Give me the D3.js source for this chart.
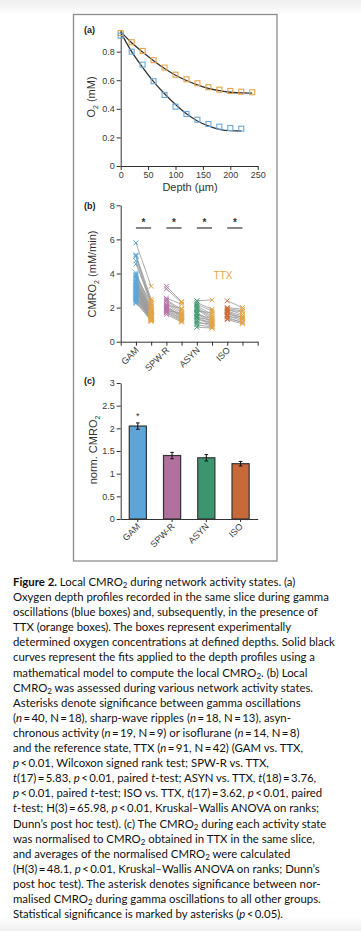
<!DOCTYPE html>
<html><head><meta charset="utf-8">
<script src="https://cdn.jsdelivr.net/npm/d3@7"></script>
<style>
html,body{margin:0;padding:0;width:361px;height:931px;overflow:hidden;background:#fff;}
#wrap{position:relative;width:361px;height:931px;}
svg{position:absolute;left:0;top:0;}
#cap{position:absolute;left:13px;top:574px;font-family:Lato,"Noto Sans",sans-serif;color:#111;white-space:nowrap;line-height:15.1px;}
#cap sub{font-size:0.7em;vertical-align:-0.25em;line-height:0;}
</style></head>
<body><div id="wrap"><svg id="chart" width="361" height="931"></svg><div id="cap"></div></div>
<script>
// ---------- DATA ----------
// Panel (a): oxygen depth profiles
const depthGam = [0,20,40,60,80,100,120,140,160,180,200,220];
const o2Gam    = [0.912,0.80,0.709,0.593,0.497,0.415,0.364,0.324,0.294,0.275,0.266,0.261];
const depthTtx = [0,20,40,60,80,100,120,140,160,180,200,220,240];
const o2Ttx    = [0.93,0.866,0.805,0.74,0.688,0.639,0.607,0.579,0.551,0.534,0.525,0.52,0.516];
const fitDepthGam = [0,20,40,60,80,100,120,140,160,180,200,220];
const fitGam      = [0.935,0.80,0.69,0.59,0.505,0.43,0.365,0.315,0.28,0.257,0.247,0.245];
const fitDepthTtx = [0,20,40,60,80,100,120,140,160,180,200,220,240];
const fitTtx      = [0.94,0.862,0.797,0.737,0.682,0.635,0.598,0.567,0.543,0.527,0.516,0.511,0.51];
const xTicksA = [0,50,100,150,200,250];
const yTicksA = [0,0.2,0.4,0.6,0.8];

// Panel (b): paired CMRO2 (activity state vs TTX)
const groups = ["GAM","SPW-R","ASYN","ISO"];
const gamAct = [5.8,5.1,5.05,5.0,4.75,4.55,4.05,3.95,3.9,3.85,3.75,3.7,3.6,3.55,3.5,3.45,3.4,3.35,3.3,3.25,3.2,3.15,3.1,3.05,3.0,2.95,2.9,2.85,2.8,2.75,2.7,2.65,2.6,2.55,2.5,2.45,2.4,2.35,2.3,2.25];
const gamTtx = [3.25,2.5,2.3,2.2,2.1,2.4,2.0,1.9,1.8,2.25,1.7,1.6,1.9,1.5,1.4,1.8,1.7,1.45,1.35,2.0,1.3,1.6,1.5,1.25,1.55,1.7,1.3,1.45,1.2,1.9,1.35,1.6,1.25,1.5,1.4,1.3,1.8,1.2,1.55,1.35];
const spwAct = [3.25,3.1,2.55,2.45,2.4,2.3,2.2,2.15,2.1,2.05,2.0,1.95,1.9,1.85,1.8,1.75,1.7,1.6];
const spwTtx = [2.35,2.3,2.2,1.9,1.8,1.7,1.6,1.95,1.5,1.45,1.55,1.4,1.3,1.65,1.35,1.25,1.2,1.15];
const asynAct = [2.4,2.3,2.2,2.1,2.0,1.95,1.9,1.8,1.7,1.65,1.6,1.5,1.45,1.4,1.3,1.2,1.1,1.0,0.85];
const asynTtx = [2.45,1.9,1.8,1.6,1.5,1.4,1.3,1.7,1.2,1.1,1.35,1.0,1.25,0.95,1.15,0.9,1.05,0.85,0.8];
const isoAct = [2.4,2.0,1.95,1.9,1.85,1.8,1.75,1.7,1.6,1.55,1.5,1.45,1.35,1.3];
const isoTtx = [2.0,1.9,1.8,1.6,1.75,1.5,1.4,1.3,1.45,1.2,1.35,1.1,1.15,1.05];
const yTicksB = [0,2,4,6,8];
const sigLevelB = 6.67;

// Panel (c): normalised CMRO2
const normMean = [2.05,1.40,1.35,1.22];
const normErr  = [0.07,0.07,0.07,0.05];
const yTicksC = [0,0.5,1,1.5,2,2.5,3];

// Colours
const groupColors = ["#5ba6da","#bb72ab","#3c9c70","#cc6d35"];
const barColors   = ["#5da5d8","#b1719f","#3b9670","#c8693a"];
const ttxColor = "#e3a446";
const gamBoxColor = "#6aa8da";

// ---------- DRAW ----------
const svg = d3.select("#chart");
const defs = svg.append("defs");
const gt = defs.append("linearGradient").attr("id","gtop").attr("x1",0).attr("x2",0).attr("y1",0).attr("y2",1);
gt.append("stop").attr("offset","0").attr("stop-color","#efefef");
gt.append("stop").attr("offset","1").attr("stop-color","#ffffff");
svg.append("rect").attr("x",0).attr("y",0).attr("width",361).attr("height",16).attr("fill","url(#gtop)");
const gb = defs.append("linearGradient").attr("id","gbot").attr("x1",0).attr("x2",0).attr("y1",0).attr("y2",1);
gb.append("stop").attr("offset","0").attr("stop-color","#ffffff");
gb.append("stop").attr("offset","1").attr("stop-color","#efefef");
svg.append("rect").attr("x",0).attr("y",917).attr("width",361).attr("height",14).attr("fill","url(#gbot)");

// figure box
svg.append("rect").attr("x",73.5).attr("y",14.5).attr("width",203.5).attr("height",546.5)
  .attr("fill","#fff").attr("stroke","#8c8c8c").attr("stroke-width",1.3);

const FONT = "Liberation Sans, Arial, sans-serif";
function styleAxis(g){
  g.select(".domain").attr("stroke","#333").attr("stroke-width",1);
  g.selectAll(".tick line").attr("stroke","#333").attr("stroke-width",1);
  g.selectAll(".tick text").attr("fill","#3a3a3a").attr("font-size","9px").attr("font-family",FONT);
}
function panelLabel(t,x,y){
  svg.append("text").attr("x",x).attr("y",y).text(t).attr("font-family",FONT)
    .attr("font-size","9px").attr("font-weight","bold").attr("fill","#222");
}
function yLabel(x,y,parts){
  const t = svg.append("text").attr("transform",`translate(${x},${y}) rotate(-90)`)
    .attr("text-anchor","middle").attr("font-family",FONT).attr("font-size","11px").attr("fill","#333");
  parts.forEach(p=>{
    const s=t.append("tspan").text(p.t);
    if(p.sub){s.attr("font-size","7px").attr("dy","2.5");}
    else if(p.after){s.attr("dy","-2.5");}
  });
}
const fmtA = d => d===0 ? "0" : d3.format(".1f")(d);

// ===== Panel (a) =====
const xA = d3.scaleLinear().domain([0,250]).range([120.7,257.7]);
const yA = d3.scaleLinear().domain([0,0.95]).range([166,30.2]);
svg.append("g").attr("transform","translate(0,166)")
  .call(d3.axisBottom(xA).tickValues(xTicksA).tickSize(4).tickSizeOuter(0).tickPadding(2)).call(styleAxis);
svg.append("g").attr("transform","translate(120.7,0)")
  .call(d3.axisLeft(yA).tickValues(yTicksA).tickFormat(fmtA).tickSize(4).tickSizeOuter(0).tickPadding(2)).call(styleAxis);
panelLabel("(a)",84,33);
svg.append("text").attr("x",190).attr("y",190.5).attr("text-anchor","middle")
  .attr("font-family",FONT).attr("font-size","11px").attr("fill","#333").text("Depth (µm)");
yLabel(95,97,[{t:"O"},{t:"2",sub:true},{t:" (mM)",after:true}]);

const lineA = d3.line().x(d=>xA(d[0])).y(d=>yA(d[1])).curve(d3.curveMonotoneX);
svg.append("path").datum(fitDepthTtx.map((d,i)=>[d,fitTtx[i]])).attr("d",lineA)
  .attr("fill","none").attr("stroke","#333").attr("stroke-width",1.3);
svg.append("path").datum(fitDepthGam.map((d,i)=>[d,fitGam[i]])).attr("d",lineA)
  .attr("fill","none").attr("stroke","#333").attr("stroke-width",1.3);
const bs = 5;
svg.append("g").selectAll("rect").data(depthTtx.map((d,i)=>[d,o2Ttx[i]])).join("rect")
  .attr("x",d=>xA(d[0])-bs/2).attr("y",d=>yA(d[1])-bs/2).attr("width",bs).attr("height",bs)
  .attr("fill","none").attr("stroke",ttxColor).attr("stroke-width",1.1);
svg.append("g").selectAll("rect").data(depthGam.map((d,i)=>[d,o2Gam[i]])).join("rect")
  .attr("x",d=>xA(d[0])-bs/2).attr("y",d=>yA(d[1])-bs/2).attr("width",bs).attr("height",bs)
  .attr("fill","none").attr("stroke",gamBoxColor).attr("stroke-width",1.1);

// ===== Panel (b) =====
const xB = d3.scaleLinear().domain([0,9]).range([120.7,257.7]);
const yB = d3.scaleLinear().domain([0,8]).range([341.7,205.3]);
const labelsB = {1:"GAM",3:"SPW-R",5:"ASYN",7:"ISO"};
const gxB = svg.append("g").attr("transform","translate(0,341.7)")
  .call(d3.axisBottom(xB).tickValues(d3.range(0,10)).tickFormat(d=>labelsB[d]||"").tickSize(4).tickSizeOuter(0)).call(styleAxis);
gxB.selectAll(".tick text").attr("text-anchor","end").attr("dy",null).attr("y",0)
  .attr("transform","translate(3,9) rotate(-45)");
svg.append("g").attr("transform","translate(120.7,0)")
  .call(d3.axisLeft(yB).tickValues(yTicksB).tickSize(4).tickSizeOuter(0).tickPadding(2)).call(styleAxis);
panelLabel("(b)",84,209);
yLabel(96,274,[{t:"CMRO"},{t:"2",sub:true},{t:" (mM/min)",after:true}]);

const pairs = [[gamAct,gamTtx],[spwAct,spwTtx],[asynAct,asynTtx],[isoAct,isoTtx]];
const crossPath = "M-2.4,-2.4L2.4,2.4M-2.4,2.4L2.4,-2.4";
pairs.forEach((p,gi)=>{
  const xa = xB(1+2*gi), xt = xB(2+2*gi);
  const g = svg.append("g");
  g.selectAll("line").data(p[0].map((v,i)=>[v,p[1][i]])).join("line")
    .attr("x1",xa).attr("x2",xt).attr("y1",d=>yB(d[0])).attr("y2",d=>yB(d[1]))
    .attr("stroke","#9a9a9a").attr("stroke-width",0.8);
  g.selectAll("path.a").data(p[0]).join("path").attr("class","a")
    .attr("d",crossPath).attr("transform",v=>`translate(${xa},${yB(v)})`)
    .attr("stroke",groupColors[gi]).attr("stroke-width",1).attr("fill","none");
  g.selectAll("path.t").data(p[1]).join("path").attr("class","t")
    .attr("d",crossPath).attr("transform",v=>`translate(${xt},${yB(v)})`)
    .attr("stroke",ttxColor).attr("stroke-width",1).attr("fill","none");
  // significance
  svg.append("line").attr("x1",xa).attr("x2",xt).attr("y1",yB(sigLevelB)).attr("y2",yB(sigLevelB))
    .attr("stroke","#444").attr("stroke-width",1.3);
  svg.append("text").attr("x",(xa+xt)/2).attr("y",yB(sigLevelB)-1.5).attr("text-anchor","middle")
    .attr("font-family",FONT).attr("font-size","10px").attr("font-weight","bold").attr("fill","#333").text("*");
});
svg.append("text").attr("x",223).attr("y",279).attr("text-anchor","middle")
  .attr("font-family",FONT).attr("font-size","10px").attr("fill",ttxColor).text("TTX");

// ===== Panel (c) =====
const xC = d3.scaleBand().domain(groups).range([120.7,257.7]).paddingInner(0.5).paddingOuter(0.25);
const yC = d3.scaleLinear().domain([0,3]).range([519,383]);
svg.append("g").selectAll("rect").data(groups).join("rect")
  .attr("x",d=>xC(d)).attr("y",(d,i)=>yC(normMean[i])).attr("width",xC.bandwidth())
  .attr("height",(d,i)=>yC(0)-yC(normMean[i])).attr("fill",(d,i)=>barColors[i])
  .attr("stroke","#333").attr("stroke-width",1.2);
const eb = svg.append("g");
groups.forEach((g,i)=>{
  const cx = xC(g)+xC.bandwidth()/2;
  const y1 = yC(normMean[i]-normErr[i]), y2 = yC(normMean[i]+normErr[i]);
  eb.append("line").attr("x1",cx).attr("x2",cx).attr("y1",y1).attr("y2",y2).attr("stroke","#111").attr("stroke-width",1);
  eb.append("line").attr("x1",cx-1.8).attr("x2",cx+1.8).attr("y1",y1).attr("y2",y1).attr("stroke","#111").attr("stroke-width",1);
  eb.append("line").attr("x1",cx-1.8).attr("x2",cx+1.8).attr("y1",y2).attr("y2",y2).attr("stroke","#111").attr("stroke-width",1);
});
const gxC = svg.append("g").attr("transform","translate(0,519)")
  .call(d3.axisBottom(xC).tickSize(3).tickSizeOuter(0)).call(styleAxis);
gxC.selectAll(".tick text").attr("text-anchor","end").attr("dy",null).attr("y",0)
  .attr("transform","translate(3,8) rotate(-45)");
svg.append("g").attr("transform","translate(120.7,0)")
  .call(d3.axisLeft(yC).tickValues(yTicksC).tickFormat(d=>String(d)).tickSize(4).tickSizeOuter(0).tickPadding(2)).call(styleAxis);
panelLabel("(c)",84,384);
yLabel(97,450,[{t:"norm. CMRO"},{t:"2",sub:true}]);
svg.append("text").attr("x",xC("GAM")+xC.bandwidth()/2).attr("y",yC(2.3)+4).attr("text-anchor","middle")
  .attr("font-family",FONT).attr("font-size","9px").attr("fill","#333").text("*");

// ===== Caption =====
const capLines = [
  "<b>Figure 2.</b> Local CMRO<sub>2</sub> during network activity states. (a)",
  "Oxygen depth profiles recorded in the same slice during gamma",
  "oscillations (blue boxes) and, subsequently, in the presence of",
  "TTX (orange boxes). The boxes represent experimentally",
  "determined oxygen concentrations at defined depths. Solid black",
  "curves represent the fits applied to the depth profiles using a",
  "mathematical model to compute the local CMRO<sub>2</sub>. (b) Local",
  "CMRO<sub>2</sub> was assessed during various network activity states.",
  "Asterisks denote significance between gamma oscillations",
  "(<i>n</i>\u2009=\u200940, N\u2009=\u200918), sharp-wave ripples (<i>n</i>\u2009=\u200918, N\u2009=\u200913), asyn-",
  "chronous activity (<i>n</i>\u2009=\u200919, N\u2009=\u20099) or isoflurane (<i>n</i>\u2009=\u200914, N\u2009=\u20098)",
  "and the reference state, TTX (<i>n</i>\u2009=\u200991, N\u2009=\u200942) (GAM vs. TTX,",
  "<i>p</i>\u2009&lt;\u20090.01, Wilcoxon signed rank test; SPW-R vs. TTX,",
  "<i>t</i>(17)\u2009=\u20095.83, <i>p</i>\u2009&lt;\u20090.01, paired <i>t</i>-test; ASYN vs. TTX, <i>t</i>(18)\u2009=\u20093.76,",
  "<i>p</i>\u2009&lt;\u20090.01, paired <i>t</i>-test; ISO vs. TTX, <i>t</i>(17)\u2009=\u20093.62, <i>p</i>\u2009&lt;\u20090.01, paired",
  "<i>t</i>-test; H(3)\u2009=\u200965.98, <i>p</i>\u2009&lt;\u20090.01, Kruskal–Wallis ANOVA on ranks;",
  "Dunn’s post hoc test). (c) The CMRO<sub>2</sub> during each activity state",
  "was normalised to CMRO<sub>2</sub> obtained in TTX in the same slice,",
  "and averages of the normalised CMRO<sub>2</sub> were calculated",
  "(H(3)\u2009=\u200948.1, <i>p</i>\u2009&lt;\u20090.01, Kruskal–Wallis ANOVA on ranks; Dunn’s",
  "post hoc test). The asterisk denotes significance between nor-",
  "malised CMRO<sub>2</sub> during gamma oscillations to all other groups.",
  "Statistical significance is marked by asterisks (<i>p</i>\u2009&lt;\u20090.05)."
];
const cap = d3.select("#cap");
cap.style("font-size","12px");
cap.selectAll("div").data(capLines).join("div").html(d=>d);
// fit font size so line 2 spans ~316px as in the reference
const l2 = cap.selectAll("div").nodes()[1];
const sp = document.createElement("span"); sp.innerHTML = capLines[1]; l2.innerHTML=""; l2.appendChild(sp);
const w = sp.getBoundingClientRect().width;
cap.style("font-size",(12*316/w).toFixed(2)+"px");
</script></body></html>
